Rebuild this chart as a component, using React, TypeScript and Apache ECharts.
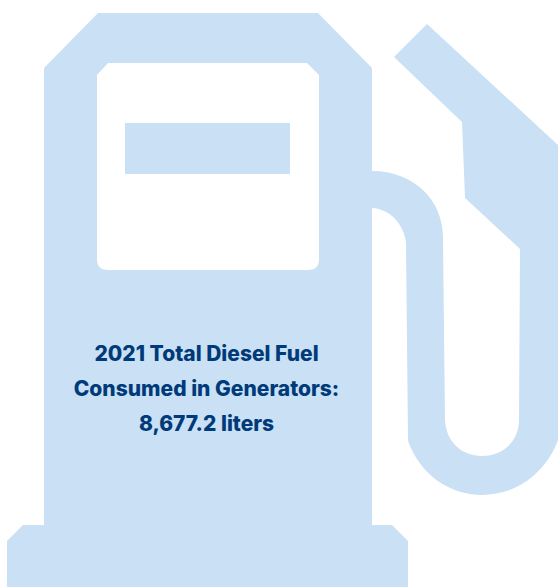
import React, { useEffect, useRef } from "react";
import * as echarts from "echarts";

const textLines = ["2021 Total Diesel Fuel", "Consumed in Generators:", "8,677.2 liters"];
const lineCentres = [353, 388, 423];

const bodyPath =
  "M98 13 L318 13 L372 68 L372 171 C414 171 443 200 443 238 L445 420 C446 442 462 456 482 456 C503 456 519 441 519 420 L520 249 L465 198 L462 122 L394 57 L427 24 L558 145 L558 440 C546 473 516 495 482 495 C449 495 420 474 408 441 L406 243 C404 224 390 209 372 208 L372 525 L392 525 L408 541 L408 587 L7 587 L7 541 L23 525 L44 525 L44 68 Z";
const windowPath =
  "M108 63 L307 63 L319 75 L319 259 Q319 270 308 270 L108 270 Q97 270 97 259 L97 75 Z";

echarts.graphic.registerShape("pumpBody", echarts.graphic.extendPath(bodyPath, {}));
echarts.graphic.registerShape("pumpWindow", echarts.graphic.extendPath(windowPath, {}));

export default function App() {
  const ref = useRef<HTMLDivElement>(null);
  useEffect(() => {
    const chart = echarts.init(ref.current!, null, { renderer: "svg" });
    chart.setOption({
      animation: false,
      backgroundColor: "#ffffff",
      graphic: [
        { type: "pumpBody", x: 0, y: 0, style: { fill: "#cae0f5" } },
        { type: "pumpWindow", x: 0, y: 0, style: { fill: "#ffffff" } },
        { type: "rect", shape: { x: 125, y: 123, width: 165, height: 51 }, style: { fill: "#cae0f5" } },
        ...textLines.map((t, i) => ({
          type: "text",
          x: 206.5,
          y: lineCentres[i],
          style: {
            text: t,
            fill: "#003a78",
            font: "800 21px Inter, sans-serif",
            align: "center",
            verticalAlign: "middle",
          },
        })),
      ],
    });
    return () => chart.dispose();
  }, []);
  return <div ref={ref} style={{ position: "fixed", left: 0, top: 0, width: 558, height: 587 }} />;
}
